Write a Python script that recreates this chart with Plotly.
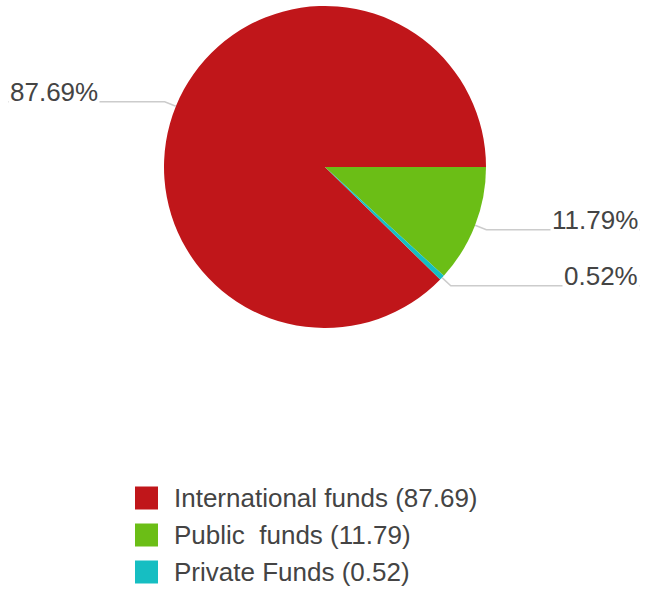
import math
import plotly.graph_objects as go

# Funding sources and their shares
categories = ["International funds", "Public  funds", "Private Funds"]
values = [87.69, 11.79, 0.52]
colors = ["#C0161A", "#6BBE16", "#16BEC2"]

# Canvas and pie geometry (pixels)
W, H = 648, 590
CX, CY, R = 325, 167, 161
KINK = 1.075            # leader line bend, as a multiple of the radius
LABEL_PAD = 8           # distance of outer labels from the canvas edge
FONT = "Arial, Liberation Sans, sans-serif"
TEXT_COLOR = "#444444"
LINE_COLOR = "#CCCCCC"
LABEL_SIZE = 26

# Legend layout (pixels)
LEG_X, LEG_Y0, LEG_DY, SW = 135, 498, 37, 23


def px(x):
    return x / W


def py(y):
    return 1 - y / H


total = sum(values)
fractions = [v / total for v in values]

# The last slices sit just clockwise of 3 o'clock; the first one ends there.
rotation = 90 - 360 * fractions[0]
if rotation < 0:
    rotation += 360

fig = go.Figure(
    go.Pie(
        labels=categories,
        values=values,
        sort=False,
        direction="clockwise",
        rotation=rotation,
        marker=dict(colors=colors, line=dict(width=0)),
        textinfo="none",
        hoverinfo="skip",
        showlegend=False,
        domain=dict(x=[px(CX - R), px(CX + R)], y=[py(CY + R), py(CY - R)]),
    )
)

shapes = []
annotations = []

# Outside percentage labels with bent leader lines
start = rotation
for cat, frac in zip(categories, fractions):
    mid = math.radians(start + 180 * frac)
    start += 360 * frac
    ex, ey = CX + R * math.sin(mid), CY - R * math.cos(mid)
    kx, ky = CX + KINK * R * math.sin(mid), CY - KINK * R * math.cos(mid)
    right = math.sin(mid) > 0
    tx = W - LABEL_PAD if right else LABEL_PAD
    path = f"M {px(ex)},{py(ey)} L {px(kx)},{py(ky)} L {px(tx)},{py(ky)}"
    shapes.append(dict(type="path", xref="paper", yref="paper", path=path,
                       line=dict(color=LINE_COLOR, width=1.5)))
    annotations.append(dict(
        x=px(tx), y=py(ky + 7), xref="paper", yref="paper",
        xanchor="right" if right else "left", yanchor="bottom",
        text=f"{frac * 100:.2f}%", showarrow=False,
        bgcolor="white", borderpad=1,
        font=dict(family=FONT, size=LABEL_SIZE, color=TEXT_COLOR),
    ))

# Legend: coloured squares with category names and values
for i, (cat, val, col) in enumerate(zip(categories, values, colors)):
    yc = LEG_Y0 + i * LEG_DY
    shapes.append(dict(type="rect", xref="paper", yref="paper",
                       x0=px(LEG_X), x1=px(LEG_X + SW),
                       y0=py(yc + SW / 2), y1=py(yc - SW / 2),
                       fillcolor=col, line=dict(width=0)))
    annotations.append(dict(
        x=px(LEG_X + 37), y=py(yc), xref="paper", yref="paper",
        xanchor="left", yanchor="middle",
        text=f"{cat} ({val:.2f})".replace("  ", "&nbsp; "), showarrow=False,
        font=dict(family=FONT, size=LABEL_SIZE, color=TEXT_COLOR),
    ))

fig.update_layout(
    width=W, height=H,
    margin=dict(l=0, r=0, t=0, b=0),
    paper_bgcolor="white", plot_bgcolor="white",
    shapes=shapes, annotations=annotations,
)

fig.write_html("out.html")
